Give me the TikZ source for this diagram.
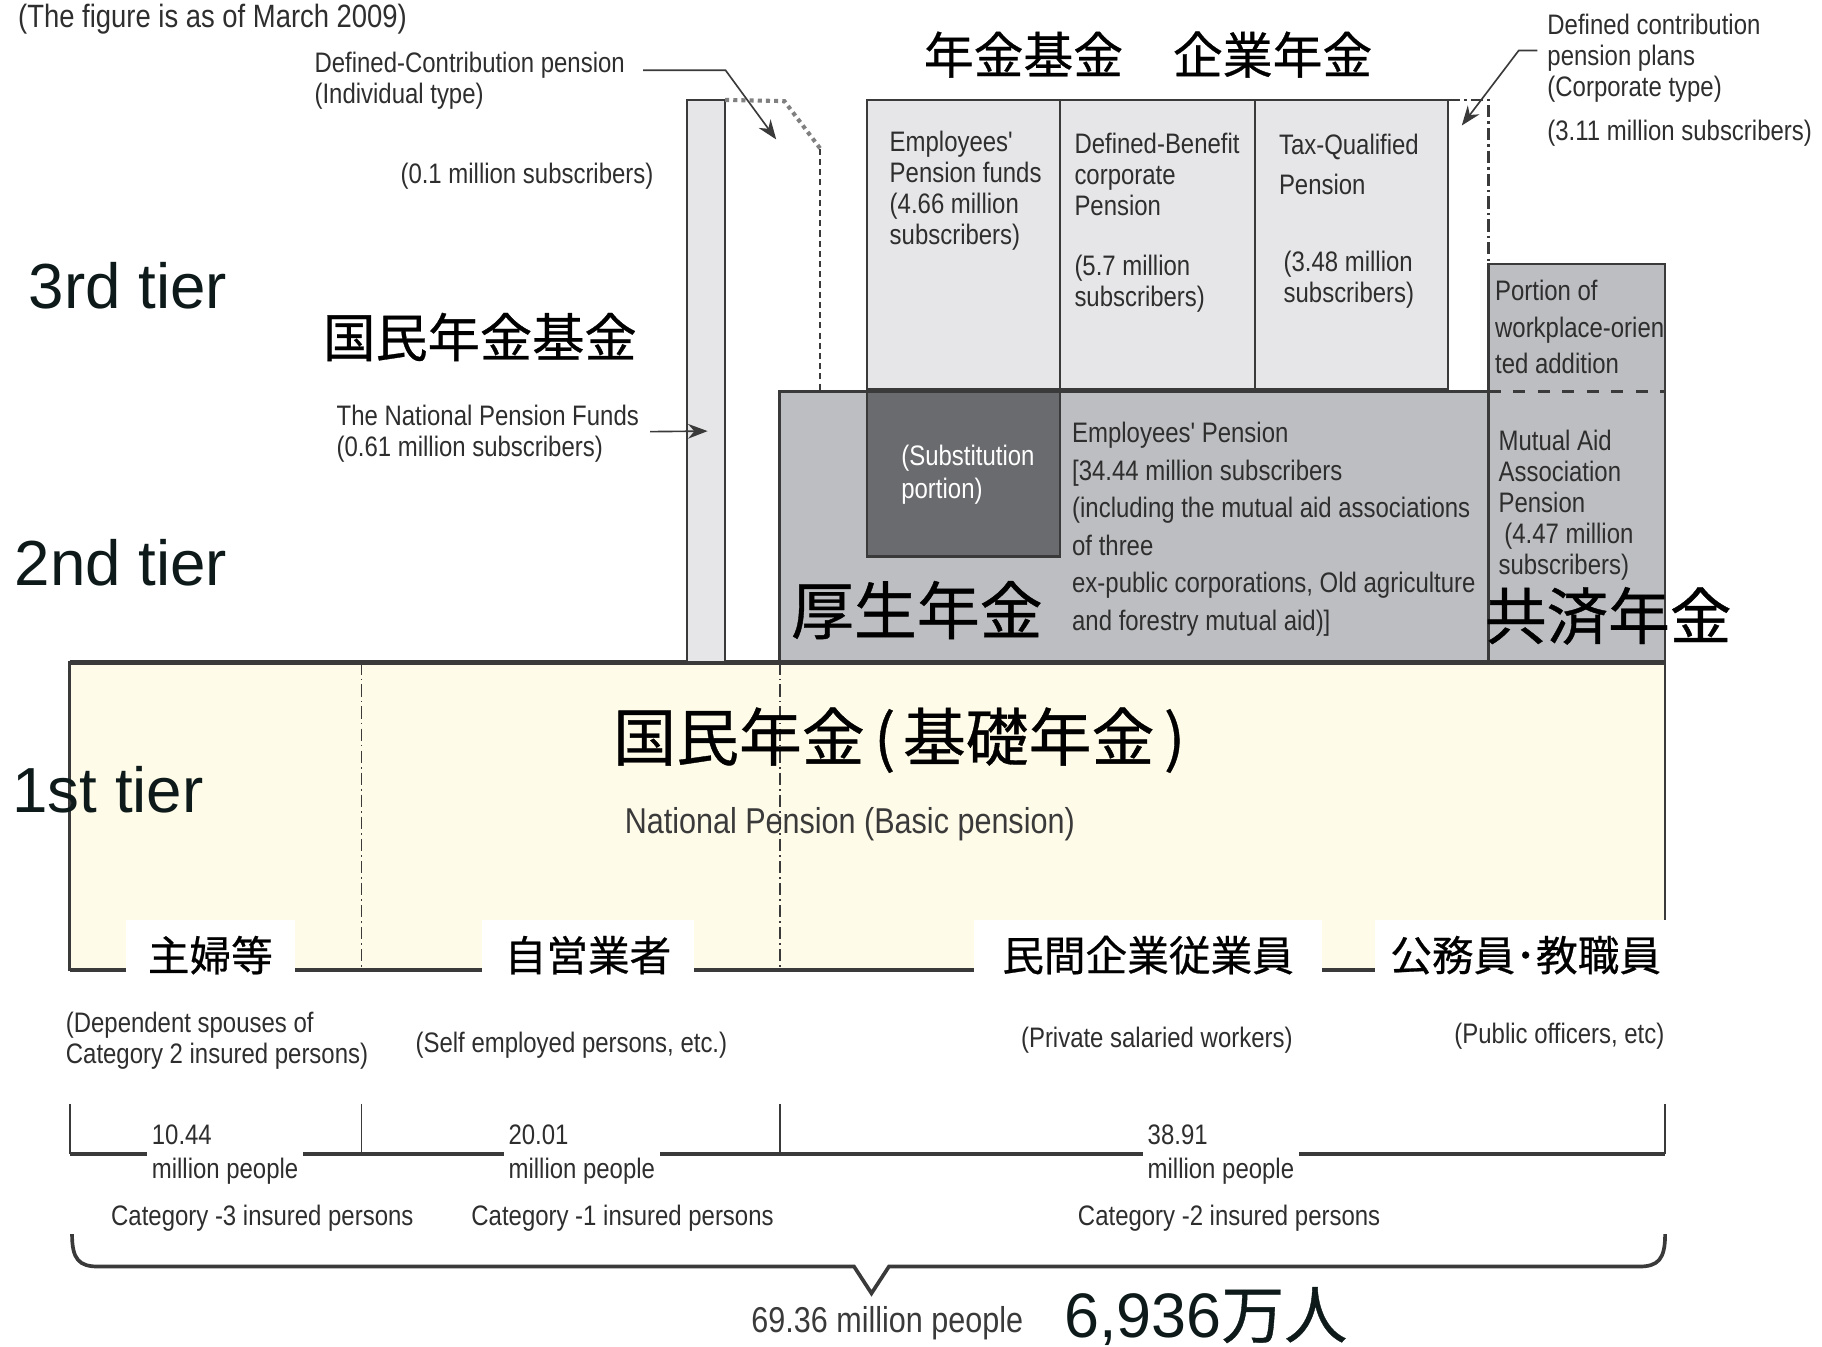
\documentclass[tikz,border=0pt]{standalone}
\usepackage{fontspec}
\usepackage{tikz}
\usetikzlibrary{calc,arrows.meta,positioning}
\usepackage{xcolor}
\setmainfont{Liberation Sans}
\newfontfamily\narrowfont[FakeStretch=0.85]{Liberation Sans}
\newfontfamily\cjkfont[FakeBold=0.6]{Noto Sans CJK JP}
\definecolor{paleyellow}{HTML}{FFFBE9}
\definecolor{lightbox}{HTML}{E6E6E8}
\definecolor{midbox}{HTML}{BDBEC1}
\definecolor{darkbox}{HTML}{6A6B6F}
\definecolor{edge}{HTML}{3A3A3A}
\definecolor{txt}{HTML}{2E2E2E}
\definecolor{tiertxt}{HTML}{0E1A1A}
\newcommand{\sm}{\narrowfont\fontsize{6.9pt}{7.6pt}\selectfont}
\newcommand{\jp}[1]{\cjkfont\fontsize{#1}{#1}\selectfont}

\begin{document}
\begin{tikzpicture}[x=0.1mm,y=-0.1mm,>=Stealth,
  every node/.style={inner sep=0pt},
  lbl/.style={anchor=west,align=left,text=txt,font=\sm,yshift=-0.7pt},
  tier/.style={anchor=west,text=tiertxt,font=\fontsize{15.6pt}{18pt}\selectfont},
  who/.style={fill=white,minimum height=6mm,font=\jp{10.2pt}},
  num/.style={lbl,fill=white,inner xsep=0.4mm,font=\narrowfont\fontsize{6.9pt}{8.3pt}\selectfont},
  box/.style={draw=edge,line width=0.6pt}]
  \useasboundingbox (0,0) rectangle (1568,1159);
  \fill[white] (0,0) rectangle (1568,1159);

  % 1) 1st tier band (basic pension)
  \filldraw[box,fill=paleyellow] (60,570) rectangle (1433,835);
  \draw[edge,line width=0.9pt] (60,835) -- (1433,835);
  \draw[edge,densely dash dot] (311,570) -- (311,835);
  \draw[edge,densely dash dot] (671,570) -- (671,835);

  % 2) 2nd tier blocks
  \filldraw[box,fill=midbox] (671,337) rectangle (1281,570);
  \filldraw[box,fill=midbox] (1281,227) rectangle (1433,570);
  \draw[edge,dashed,line width=0.8pt] (1281,337) -- (1433,337);
  \filldraw[box,fill=darkbox] (746,337) rectangle (912,479);
  \draw[edge,line width=1.2pt] (60,570) -- (1433,570);

  % 3) 3rd tier blocks and the funds bar
  \filldraw[box,fill=lightbox] (591,86) rectangle (624,570);
  \foreach \xa/\xb in {746/912,912/1080,1080/1246}
    \filldraw[box,fill=lightbox] (\xa,86) rectangle (\xb,335);
  \draw[edge,line width=1.4pt] (746,336) -- (1246,336);

  % DC outlines (individual / corporate)
  \draw[gray,densely dotted,line width=1pt] (624,86) -- (675,87) -- (706,128);
  \draw[edge,line width=0.5pt,dash pattern=on 1.5pt off 1pt] (706,128) -- (706,337);
  \draw[edge,line width=0.6pt,densely dash dot] (1246,86) -- (1281,86) -- (1281,227);

  % 4) headings
  \node[lbl,font=\narrowfont\fontsize{7.9pt}{9pt}\selectfont] (asof) at (15,14) {(The figure is as of March 2009)};
  \node[tier] (tier3) at (24,246) {3rd tier};
  \node[tier] (tier2) at (12,484) {2nd tier};
  \node[tier] (tier1) at (10,680) {1st tier};
  \node[font=\jp{12.2pt}] (corpfund) at (988,47) {年金基金　企業年金};
  \node[font=\jp{12.8pt}] (natfund) at (413,290) {国民年金基金};
  \node[font=\jp{15.4pt}] (kosei) at (789,525) {厚生年金};
  \node[font=\jp{15.1pt}] (kyosai) at (1384,530) {共済年金};
  \node[anchor=west,font=\jp{15.4pt}] (kiso) at (527,637) {国民年金\kern0.15em(\kern0.12em基礎年金\kern0.15em)};

  % 5) labels with arrows
  \node[lbl] (dcind) at (270,67) {Defined-Contribution pension\\(Individual type)};
  \node[lbl] (dcindnum) at (344,149) {(0.1 million subscribers)};
  \coordinate (dcindin) at (668,120);
  \draw[->,edge] ($(dcind.east)+(15,-9)$) -- ++(71,0) -- (dcindin);
  \node[lbl] (npf) at (289,371) {The National Pension Funds\\(0.61 million subscribers)};
  \coordinate (npfin) at (609,371);
  \draw[->,edge] ($(npf.east)+(9,-2)$) -- (npfin);
  \node[lbl] (dccorp) at (1331,48) {Defined contribution\\pension plans\\(Corporate type)};
  \node[lbl] (dccorpnum) at (1331,112) {(3.11 million subscribers)};
  \coordinate (dccorpin) at (1258,108);
  \draw[->,edge] ($(dccorp.west)+(-8,-7)$) -- ++(-16,0) -- (dccorpin);

  % 6) texts inside the blocks
  \node[lbl] (epf) at (765,162) {Employees'\\Pension funds\\(4.66 million\\subscribers)};
  \node[lbl] (dbc) at (924,148) {Defined-Benefit\\corporate\\Pension};
  \node[lbl] (dbcnum) at (924,242) {(5.7 million\\subscribers)};
  \node[lbl] (tq) at (1100,139) {Tax-Qualified\\[2.1pt]Pension};
  \node[lbl] (tqnum) at (1104,238) {(3.48 million\\subscribers)};
  \node[lbl,font=\narrowfont\fontsize{6.9pt}{9pt}\selectfont] (portion) at (1286,279) {Portion of\\workplace-orien\\ted addition};
  \node[lbl,text=white,font=\narrowfont\fontsize{6.9pt}{8pt}\selectfont] (subst) at (775,406) {(Substitution\\portion)};
  \node[lbl,font=\narrowfont\fontsize{6.9pt}{9.2pt}\selectfont] (ep) at (922,453) {Employees' Pension\\{[}34.44 million subscribers\\(including the mutual aid associations\\of three\\ex-public corporations, Old agriculture\\and forestry mutual aid)]};
  \node[lbl] (mutual) at (1289,432) {Mutual Aid\\Association\\Pension\\\hspace*{1.4pt}(4.47 million\\subscribers)};
  \node[lbl,text=edge,font=\narrowfont\fontsize{8.8pt}{10pt}\selectfont] (nbp) at (537,707) {National Pension (Basic pension)};

  % 7) insured groups
  \node[who,minimum width=14.5mm] (shufu) at (181,822) {主婦等};
  \node[who,minimum width=18.3mm] (jiei) at (506,822) {自営業者};
  \node[who,minimum width=30mm] (minkan) at (988,822) {民間企業従業員};
  \node[who,minimum width=26mm] (komuin) at (1313,822) {公務員･教職員};
  \node[lbl] (spouse) at (56,893) {(Dependent spouses of\\Category 2 insured persons)};
  \node[lbl] (selfemp) at (357,897) {(Self employed persons, etc.)};
  \node[lbl] (private) at (878,893) {(Private salaried workers)};
  \node[lbl] (public) at (1251,889) {(Public officers, etc)};

  % 8) head counts and total
  \foreach \xt in {60,311,671,1433}
    \draw[edge] (\xt,950) -- (\xt,993);
  \draw[edge,line width=0.9pt] (60,993) -- (1433,993);
  \node[num] (n3) at (126,991) {10.44\\million people};
  \node[num] (n1) at (433,991) {20.01\\million people};
  \node[num] (n2) at (983,991) {38.91\\million people};
  \node[lbl] (cat3) at (95,1046) {Category -3 insured persons};
  \node[lbl] (cat1) at (405,1046) {Category -1 insured persons};
  \node[lbl] (cat2) at (927,1046) {Category -2 insured persons};
  \draw[edge,line width=0.9pt] (62,1062) .. controls (62,1084) and (68,1090) .. (85,1090)
    -- (735,1090) -- (750,1113) -- (765,1090) -- (1410,1090)
    .. controls (1427,1090) and (1433,1084) .. (1433,1062);
  \node[lbl,text=edge,font=\narrowfont\fontsize{8.8pt}{10pt}\selectfont] (totalen) at (646,1136) {69.36 million people};
  \node[anchor=west,text=tiertxt,font=\fontsize{15.4pt}{18pt}\selectfont] (totaljp) at (915,1133) {6,936{\jp{15.4pt}万人}};
\end{tikzpicture}
\end{document}
